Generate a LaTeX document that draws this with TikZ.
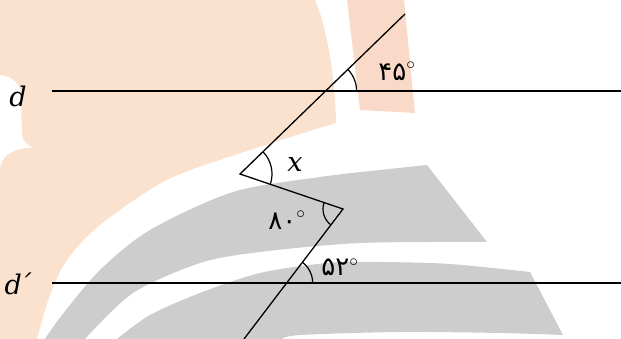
\documentclass[tikz,border=0pt]{standalone}
\usepackage{fontspec}
\setmainfont{DejaVu Serif}
\newfontfamily\fanum[Script=Arabic]{DejaVu Sans}
\usetikzlibrary{angles}
\definecolor{orangewm}{RGB}{251,226,206}
\definecolor{orangewmb}{RGB}{249,218,201}
\definecolor{graywm}{RGB}{205,205,205}
\begin{document}
\begin{tikzpicture}[x=1pt,y=1pt,
  ln/.style={line width=1.3pt, black},
  arcmark/.style={draw, line width=1.2pt},
  lbl/.style={inner sep=0pt, font=\fontsize{27}{30}\selectfont\itshape},
  num/.style={inner sep=0pt, font=\fontsize{26}{30}\selectfont}]
\useasboundingbox (0,0) rectangle (621,-339);
% watermark
\fill[orangewm] (0,0) -- (315,0) .. controls (328,-30) and (335,-80) .. (336,-123)
  -- plot[smooth] coordinates {(336,-123) (250,-150) (167,-180) (100,-225) (67,-260) (50,-295) (37,-339)}
  -- (0,-339) -- cycle;
\fill[white] (0,-75) .. controls (12,-76) and (21,-84) .. (21,-95) -- (22,-135)
  .. controls (23,-142) and (28,-146) .. (33,-147) -- (20,-149)
  .. controls (8,-152) and (2,-158) .. (0,-168) -- cycle;
\fill[orangewmb] (347,0) -- (404,0) -- (415,-113) -- (360,-110) -- cycle;
\fill[graywm] plot[smooth] coordinates {(427,-165) (380,-170) (320,-177) (233,-192) (150,-230) (100,-270) (62,-315) (45,-339)}
  -- (85,-339)
  -- plot[smooth] coordinates {(85,-339) (133,-293) (200,-263) (260,-252) (360,-243) (487,-242)}
  -- cycle;
\fill[graywm] plot[smooth] coordinates {(530,-272) (450,-264) (380,-262) (327,-263) (260,-273) (200,-293) (150,-315) (117,-339)}
  -- (282,-339)
  -- plot[smooth] coordinates {(282,-339) (300,-335) (400,-332) (500,-333) (563,-335)}
  -- cycle;
% geometry
\coordinate (dL) at (52,-91);
\coordinate (dR) at (621,-91);
\coordinate (eL) at (52,-283);
\coordinate (eR) at (621,-283);
\coordinate (A) at (405,-14);
\coordinate (P) at (325.6,-91);
\coordinate (V1) at (240,-174);
\coordinate (V2) at (343,-209);
\coordinate (Q) at (286.7,-283);
\coordinate (B) at (244,-339);
\draw[ln] (dL) -- (dR);
\draw[ln] (eL) -- (eR);
\draw[ln] (A) -- (V1) -- (V2) -- (B);
\pic[arcmark, angle radius=31pt] {angle=dR--P--A};
\pic[arcmark, angle radius=32pt] {angle=V2--V1--A};
\pic[arcmark, angle radius=20pt] {angle=V1--V2--B};
\pic[arcmark, angle radius=26pt] {angle=eR--Q--V2};
% labels
\node[lbl] (ld) at (18,-96) {d};
\node[lbl] (ldp) at (18,-284) {d\kern-4pt´};
\node[lbl] (lx) at (295,-164) {x};
\node[num] (l45) at (397,-71) {{\fanum ۴۵}\raisebox{2pt}{$^{\circ}$}};
\node[num] (l80) at (287,-220) {{\fanum ۸۰}\raisebox{2pt}{$^{\circ}$}};
\node[num] (l52) at (340,-267) {{\fanum ۵۲}$^{\circ}$};
\end{tikzpicture}
\end{document}
